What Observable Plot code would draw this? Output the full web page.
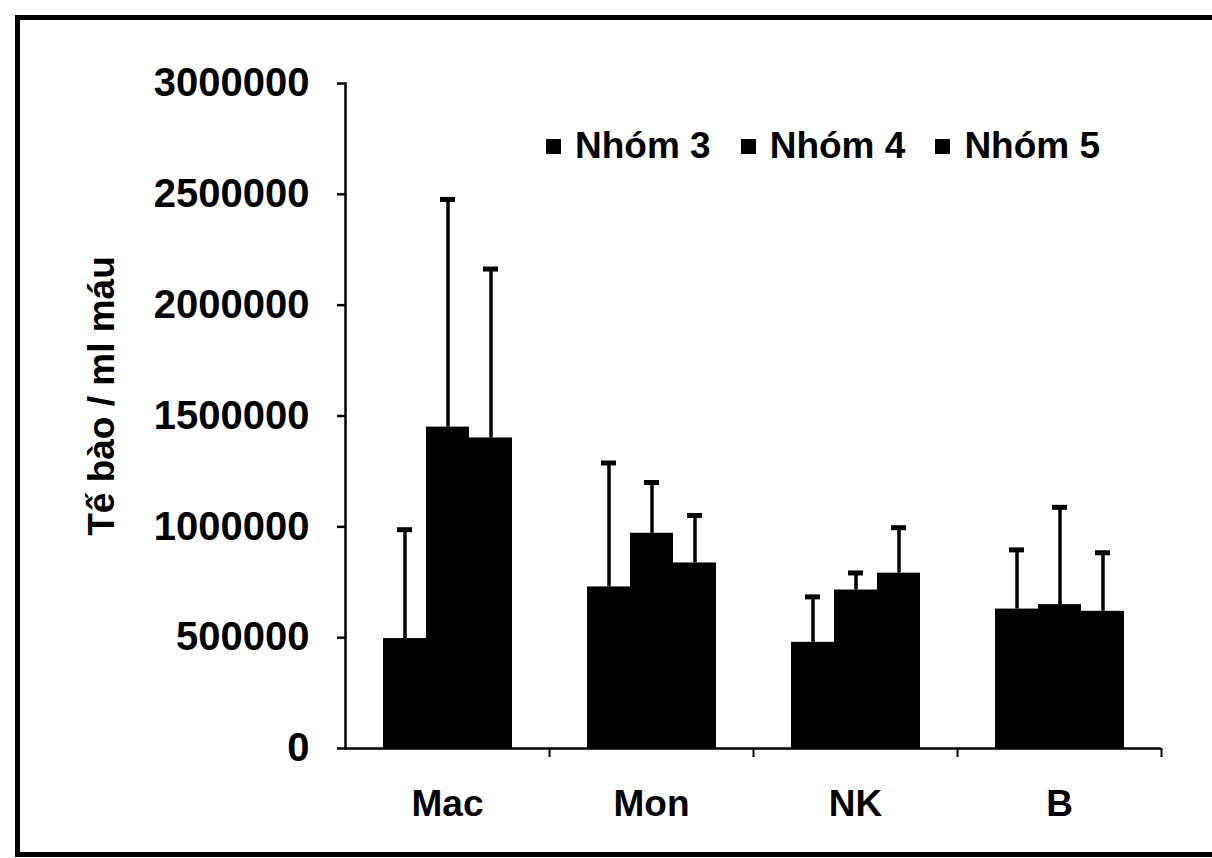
<!DOCTYPE html>
<html><head><meta charset="utf-8">
<script src="https://cdn.jsdelivr.net/npm/d3@7"></script>
<script src="https://cdn.jsdelivr.net/npm/@observablehq/plot@0.6"></script>
<style>
html,body{margin:0;padding:0;background:#fff;overflow:hidden;width:1212px;height:858px;}
#wrap{position:relative;width:1212px;height:858px;}
#chart{position:absolute;left:0;top:0;}
#border{position:absolute;left:15px;top:15px;width:1260px;height:842px;border:5px solid #000;border-right:none;box-sizing:border-box;pointer-events:none;}
#legend{position:absolute;left:546px;top:125px;}
.lg-swatch{margin-right:30px !important;}
.lg-swatch > svg{margin-right:14px !important;}
</style></head><body>
<div id="wrap"><div id="chart"></div><div id="legend"></div><div id="border"></div></div>
<script>
const categories = ["Mac", "Mon", "NK", "B"];
const groups = ["Nhóm 3", "Nhóm 4", "Nhóm 5"];
const nhom3Mean = [496000, 729000, 479000, 629000];
const nhom4Mean = [1450000, 971000, 715000, 649000];
const nhom5Mean = [1401000, 837000, 791000, 619000];
const nhom3SD = [491000, 559000, 205000, 267000];
const nhom4SD = [1027000, 229000, 77000, 439000];
const nhom5SD = [762000, 214000, 205000, 264000];
const yTicks = [0, 500000, 1000000, 1500000, 2000000, 2500000, 3000000];
const yLabel = "Tế bào / ml máu";

const meansByGroup = [nhom3Mean, nhom4Mean, nhom5Mean];
const sdByGroup = [nhom3SD, nhom4SD, nhom5SD];
const rows = [];
categories.forEach((c, i) => groups.forEach((g, j) => {
  rows.push({cat: c, group: g, mean: meansByGroup[j][i], upper: meansByGroup[j][i] + sdByGroup[j][i]});
}));

const W = 1212, H = 858, ML = 345, MR = 51, MT = 83, MB = 110;
const halfStep = (W - ML - MR) / categories.length / 2;

const chart = Plot.plot({
  width: W, height: H,
  marginLeft: ML, marginRight: MR, marginTop: MT, marginBottom: MB,
  style: {fontFamily: "'Liberation Sans', Arial, sans-serif", fontWeight: "bold", fontSize: "37px", background: "transparent", color: "#000"},
  fx: {domain: categories, padding: 0},
  x: {domain: groups, paddingInner: 0, paddingOuter: 0.82, axis: null},
  y: {domain: [0, 3000000]},
  color: {domain: groups, range: ["#000", "#000", "#000"]},
  marks: [
    Plot.barY(rows, {fx: "cat", x: "group", y: "mean", fill: "group"}),
    Plot.ruleX(rows, {fx: "cat", x: "group", y1: "mean", y2: "upper", stroke: "#000", strokeWidth: 3.5}),
    Plot.tickY(rows, {fx: "cat", x: "group", y: "upper", stroke: "#000", strokeWidth: 5, insetLeft: 14, insetRight: 14}),
    Plot.ruleY([0], {stroke: "#000", strokeWidth: 2.5}),
    Plot.frame({anchor: "left", facetAnchor: "left", stroke: "#000", strokeWidth: 2.5}),
    Plot.axisY({ticks: yTicks, tickFormat: d3.format("d"), tickSize: 8, tickPadding: 28, fontSize: 40, strokeWidth: 2.5, label: null}),
    Plot.text([yLabel], {frameAnchor: "left", facetAnchor: "left", rotate: -90, textAnchor: "middle", lineAnchor: "middle",
      dx: -243, dy: -20, fontSize: 37}),
    Plot.axisFx({anchor: "bottom", tickSize: 0, tickPadding: 41, label: null}),
    Plot.axisFx({anchor: "bottom", tickSize: 9, strokeWidth: 2, tickFormat: () => "", dx: halfStep, label: null})
  ]
});
document.getElementById("chart").append(chart);
const lg = chart.legend("color", {className: "lg", swatchSize: 15,
  style: {fontFamily: "'Liberation Sans', Arial, sans-serif", fontWeight: "bold", fontSize: "37px", color: "#000"}});
document.getElementById("legend").append(lg);
</script></body></html>
